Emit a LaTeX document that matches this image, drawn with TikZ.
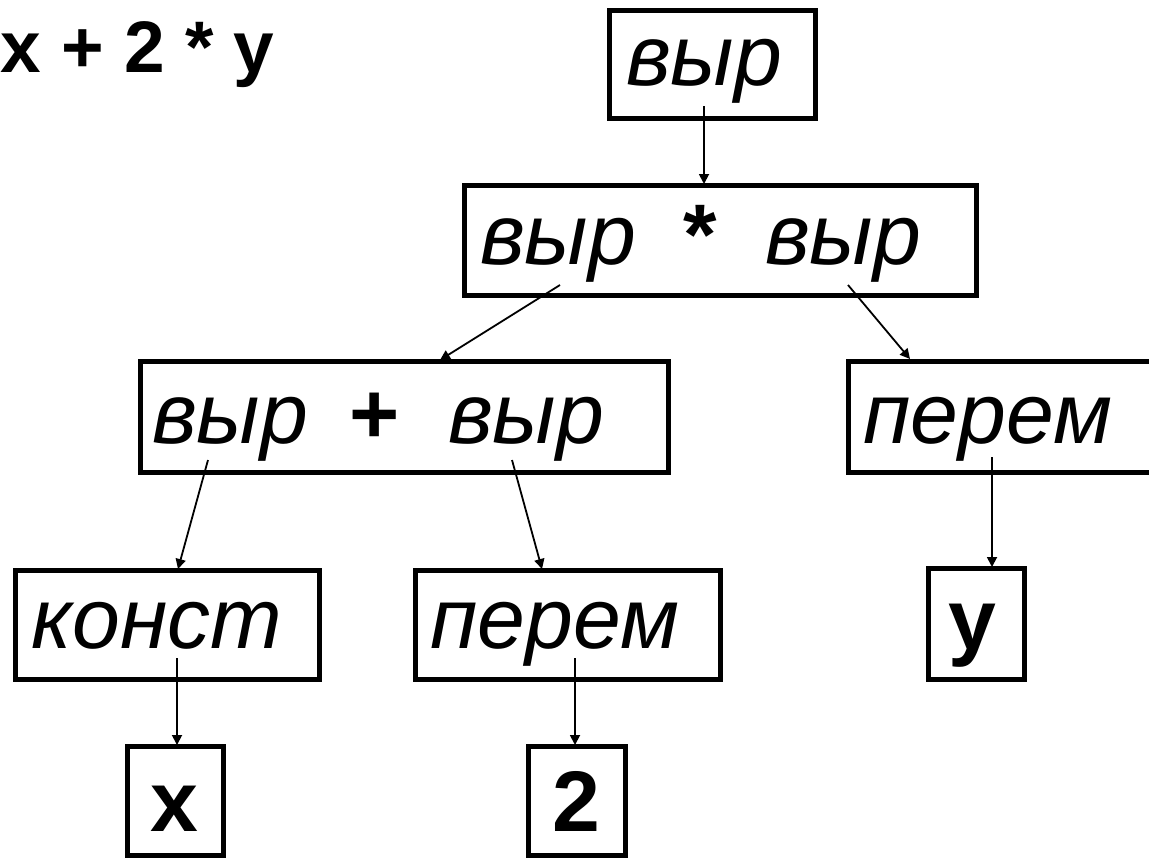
\documentclass[tikz,border=0pt]{standalone}
\usepackage{fontspec}
\setmainfont{Liberation Sans}
\usetikzlibrary{arrows.meta}
\begin{document}
\begin{tikzpicture}[x=0.5pt,y=-0.5pt,
  box/.style={draw, rectangle, line width=2.5pt, inner sep=0pt},
  word/.style={inner sep=0pt, anchor=base, font=\fontsize{43}{50}\selectfont\itshape},
  sym/.style={inner sep=0pt, anchor=base, font=\fontsize{43}{50}\selectfont\bfseries},
  arr/.style={-{Triangle[length=5pt,width=5pt]}, line width=0.9pt}]
\path[use as bounding box, clip] (0,0) rectangle (1149,858);

% the expression being parsed
\node[anchor=base west, inner sep=0pt, font=\fontsize{36.5}{42}\selectfont\bfseries]
  (expr) at (0,72) {x + 2 * y};

% row 1
\node[box, minimum width=103pt, minimum height=54pt] (r1) at (712,64) {};
\node[word] (r1w) at (704,85) {выр};

% row 2
\node[box, minimum width=256pt, minimum height=55pt] (r2) at (720,240) {};
\node[word] (r2a) at (558,264) {выр};
\node[sym]  (r2o) at (700,264) {*};
\node[word] (r2b) at (843,264) {выр};

% row 3
\node[box, minimum width=264pt, minimum height=55.5pt] (r3) at (404,416.5) {};
\node[word] (r3a) at (230,443) {выр};
\node[sym]  (r3o) at (375,443) {+};
\node[word] (r3b) at (526,443) {выр};
\node[box, minimum width=156pt, minimum height=55.5pt] (v1) at (1004,416.5) {};
\node[word] (v1w) at (988,443) {перем};

% row 4
\node[box, minimum width=152pt, minimum height=54.5pt] (c1) at (167,624.5) {};
\node[word] (c1w) at (157,648) {конст};
\node[box, minimum width=152.5pt, minimum height=54.5pt] (v2) at (567.5,624.5) {};
\node[word] (v2w) at (555,648) {перем};
\node[box, minimum width=48pt, minimum height=55.5pt] (ly) at (976,623.5) {};
\node[sym] (lyw) at (972,649) {y};

% row 5
\node[box, minimum width=48pt, minimum height=54.5pt] (lx) at (175,800.5) {};
\node[sym] (lxw) at (174,831) {x};
\node[box, minimum width=48.5pt, minimum height=54.5pt] (l2) at (576.5,800.5) {};
\node[sym] (l2w) at (576,831) {2};

% connector ends
\coordinate (s1) at (704,106);  \coordinate (e1) at (704,184);
\coordinate (s2) at (560,285);  \coordinate (e2) at (440,360);
\coordinate (s3) at (848,285);  \coordinate (e3) at (910,359);
\coordinate (s4) at (208,460);  \coordinate (e4) at (178,569);
\coordinate (s5) at (512,460);  \coordinate (e5) at (542,569);
\coordinate (s6) at (992,457);  \coordinate (e6) at (992,567);
\coordinate (s7) at (177,658);  \coordinate (e7) at (177,745);
\coordinate (s8) at (575,658);  \coordinate (e8) at (575,745);

\draw[arr] (s1) -- (e1);
\draw[arr] (s2) -- (e2);
\draw[arr] (s3) -- (e3);
\draw[arr] (s4) -- (e4);
\draw[arr] (s5) -- (e5);
\draw[arr] (s6) -- (e6);
\draw[arr] (s7) -- (e7);
\draw[arr] (s8) -- (e8);
\end{tikzpicture}
\end{document}
